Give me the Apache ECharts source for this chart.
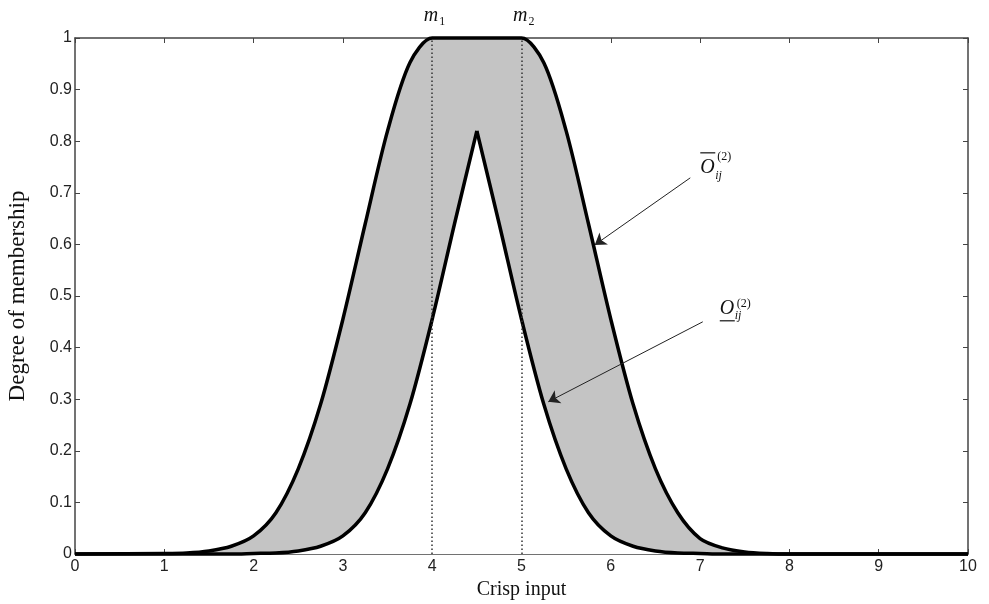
<!DOCTYPE html>
<html>
<head>
<meta charset="utf-8">
<script src="https://cdn.jsdelivr.net/npm/echarts@6/dist/echarts.min.js"></script>
<style>
  html, body { margin: 0; padding: 0; background: #fff; }
  #chart { width: 989px; height: 604px; }
</style>
</head>
<body>
<div id="chart"></div>
<script>
// crisp input samples and membership degrees
const xs = [0, 1, 1.25, 1.5, 1.75, 2, 2.25, 2.5, 2.75, 3, 3.25, 3.5, 3.75, 4, 4.25, 4.5,
            4.75, 5, 5.25, 5.5, 5.75, 6, 6.25, 6.5, 6.75, 7, 7.25, 7.5, 7.75, 8, 10];
const upperMF = [0, 0.001, 0.002, 0.006, 0.015, 0.035, 0.08, 0.165, 0.29, 0.455, 0.64, 0.82, 0.952, 1, 1, 1,
                 1, 1, 0.952, 0.82, 0.64, 0.455, 0.29, 0.165, 0.08, 0.03, 0.012, 0.004, 0.001, 0, 0];
const lowerMF = [0, 0, 0, 0, 0, 0.001, 0.002, 0.006, 0.015, 0.035, 0.08, 0.165, 0.29, 0.455, 0.64, 0.82,
                 0.64, 0.455, 0.29, 0.165, 0.08, 0.035, 0.015, 0.006, 0.002, 0.001, 0, 0, 0, 0, 0];

const means = [4, 5];
const meanSubs = ['1', '2'];

// annotation arrows: [start, tip] in data coordinates
const arrowUpper = [[6.89, 0.729], [5.82, 0.599]];
const arrowLower = [[7.03, 0.45], [5.30, 0.295]];

const serif = '"Liberation Serif", "Times New Roman", serif';
const sans = '"Liberation Sans", Arial, sans-serif';
const axisColor = '#444';

const chart = echarts.init(document.getElementById('chart'));

const pairs = (ys) => xs.map((x, i) => [x, ys[i]]);
// the lower curve has a sharp peak, so it is drawn as two smooth halves
const peakIdx = lowerMF.indexOf(Math.max(...lowerMF));
const lowerPairs = pairs(lowerMF);

const axisCommon = {
  type: 'value',
  axisLine: { show: true, onZero: false, lineStyle: { color: axisColor, width: 1.5 } },
  axisTick: { show: true, inside: true, length: 5, lineStyle: { color: axisColor, width: 1 } },
  splitLine: { show: false },
};

const curveLine = { color: '#000', width: 3.5, join: 'round' };

chart.setOption({
  animation: false,
  backgroundColor: '#fff',
  grid: { left: 75, right: 21, top: 38, bottom: 50, containLabel: false, outerBoundsMode: 'none' },
  xAxis: [
    Object.assign({}, axisCommon, {
      min: 0, max: 10, interval: 1, position: 'bottom',
      name: 'Crisp input', nameLocation: 'middle', nameGap: 21,
      nameTextStyle: { fontFamily: serif, fontSize: 20, color: '#111' },
      axisLabel: { fontFamily: sans, fontSize: 16, color: '#222', margin: 5 },
    }),
    Object.assign({}, axisCommon, {
      min: 0, max: 10, interval: 1, position: 'top',
      axisLabel: { show: false },
    }),
  ],
  yAxis: [
    Object.assign({}, axisCommon, {
      min: 0, max: 1, interval: 0.1, position: 'left',
      name: 'Degree of membership', nameLocation: 'middle', nameGap: 46,
      nameTextStyle: { fontFamily: serif, fontSize: 23, color: '#111' },
      axisLabel: { fontFamily: sans, fontSize: 16, color: '#222', margin: 3 },
    }),
    Object.assign({}, axisCommon, {
      min: 0, max: 1, interval: 0.1, position: 'right',
      axisLabel: { show: false },
    }),
  ],
  series: [
    {
      name: 'upper',
      type: 'line',
      z: 1,
      clip: false,
      smooth: 0.3,
      showSymbol: false,
      data: pairs(upperMF),
      lineStyle: curveLine,
      areaStyle: { color: '#c4c4c4', opacity: 1 },
    },
    {
      // white fill under the peak so the two halves join without a seam
      name: 'lowerPeak',
      type: 'line',
      z: 2,
      showSymbol: false,
      data: lowerPairs.slice(peakIdx - 1, peakIdx + 2),
      lineStyle: { width: 0 },
      areaStyle: { color: '#fff', opacity: 1 },
    },
    {
      name: 'lower',
      type: 'line',
      z: 3,
      clip: false,
      smooth: 0.3,
      showSymbol: false,
      data: lowerPairs.slice(0, peakIdx + 1),
      lineStyle: curveLine,
      areaStyle: { color: '#fff', opacity: 1 },
    },
    {
      name: 'lower',
      type: 'line',
      z: 3,
      clip: false,
      smooth: 0.3,
      showSymbol: false,
      data: lowerPairs.slice(peakIdx),
      lineStyle: curveLine,
      areaStyle: { color: '#fff', opacity: 1 },
    },
    {
      name: 'marks',
      type: 'line',
      z: 5,
      data: [],
      markLine: {
        silent: true,
        animation: false,
        symbol: ['none', 'none'],
        label: { show: false },
        lineStyle: { color: '#333', width: 1.5, type: [1.5, 2.5] },
        data: means.map((m) => [{ coord: [m, 0] }, { coord: [m, 1] }]),
      },
    },
    {
      name: 'arrows',
      type: 'line',
      z: 6,
      data: [],
      markLine: {
        silent: true,
        animation: false,
        symbol: ['none', 'arrow'],
        symbolSize: 11,
        label: { show: false },
        itemStyle: { color: '#222' },
        lineStyle: { color: '#222', width: 1, type: 'solid' },
        data: [arrowUpper, arrowLower].map((a) => [{ coord: a[0] }, { coord: a[1] }]),
      },
    },
  ],
});

// text annotations (m1, m2 and the O labels) placed from data coordinates
function txt(x, y, text, size, align, italic) {
  return {
    type: 'text', x: x, y: y, z: 10, silent: true,
    style: {
      text: text,
      font: (italic ? 'italic ' : '') + size + 'px ' + serif,
      fill: '#111',
      textAlign: align,
      textVerticalAlign: 'middle',
    },
  };
}
function hline(x1, x2, y) {
  return {
    type: 'line', z: 10, silent: true,
    shape: { x1: x1, y1: y, x2: x2, y2: y },
    style: { stroke: '#111', lineWidth: 1.2 },
  };
}

const graphics = [];
means.forEach((m, i) => {
  const p = chart.convertToPixel({ gridIndex: 0 }, [m, 1]);
  graphics.push(txt(p[0] + 6, p[1] - 22, 'm', 20, 'right', true));
  graphics.push(txt(p[0] + 7, p[1] - 16, meanSubs[i], 12, 'left', false));
});

const pu = chart.convertToPixel({ gridIndex: 0 }, arrowUpper[0]);
graphics.push(txt(pu[0] + 10, pu[1] - 10, 'O', 20, 'left', true));
graphics.push(hline(pu[0] + 10, pu[0] + 25, pu[1] - 25));
graphics.push(txt(pu[0] + 25, pu[1] - 2, 'ij', 12, 'left', true));
graphics.push(txt(pu[0] + 27, pu[1] - 21, '(2)', 12, 'left', false));

const pl = chart.convertToPixel({ gridIndex: 0 }, arrowLower[0]);
graphics.push(txt(pl[0] + 17, pl[1] - 13, 'O', 20, 'left', true));
graphics.push(hline(pl[0] + 17, pl[0] + 32, pl[1] - 1));
graphics.push(txt(pl[0] + 32, pl[1] - 6, 'ij', 12, 'left', true));
graphics.push(txt(pl[0] + 34, pl[1] - 18, '(2)', 12, 'left', false));

chart.setOption({ graphic: graphics });

window.addEventListener('resize', () => {
  chart.resize();
});
</script>
</body>
</html>
